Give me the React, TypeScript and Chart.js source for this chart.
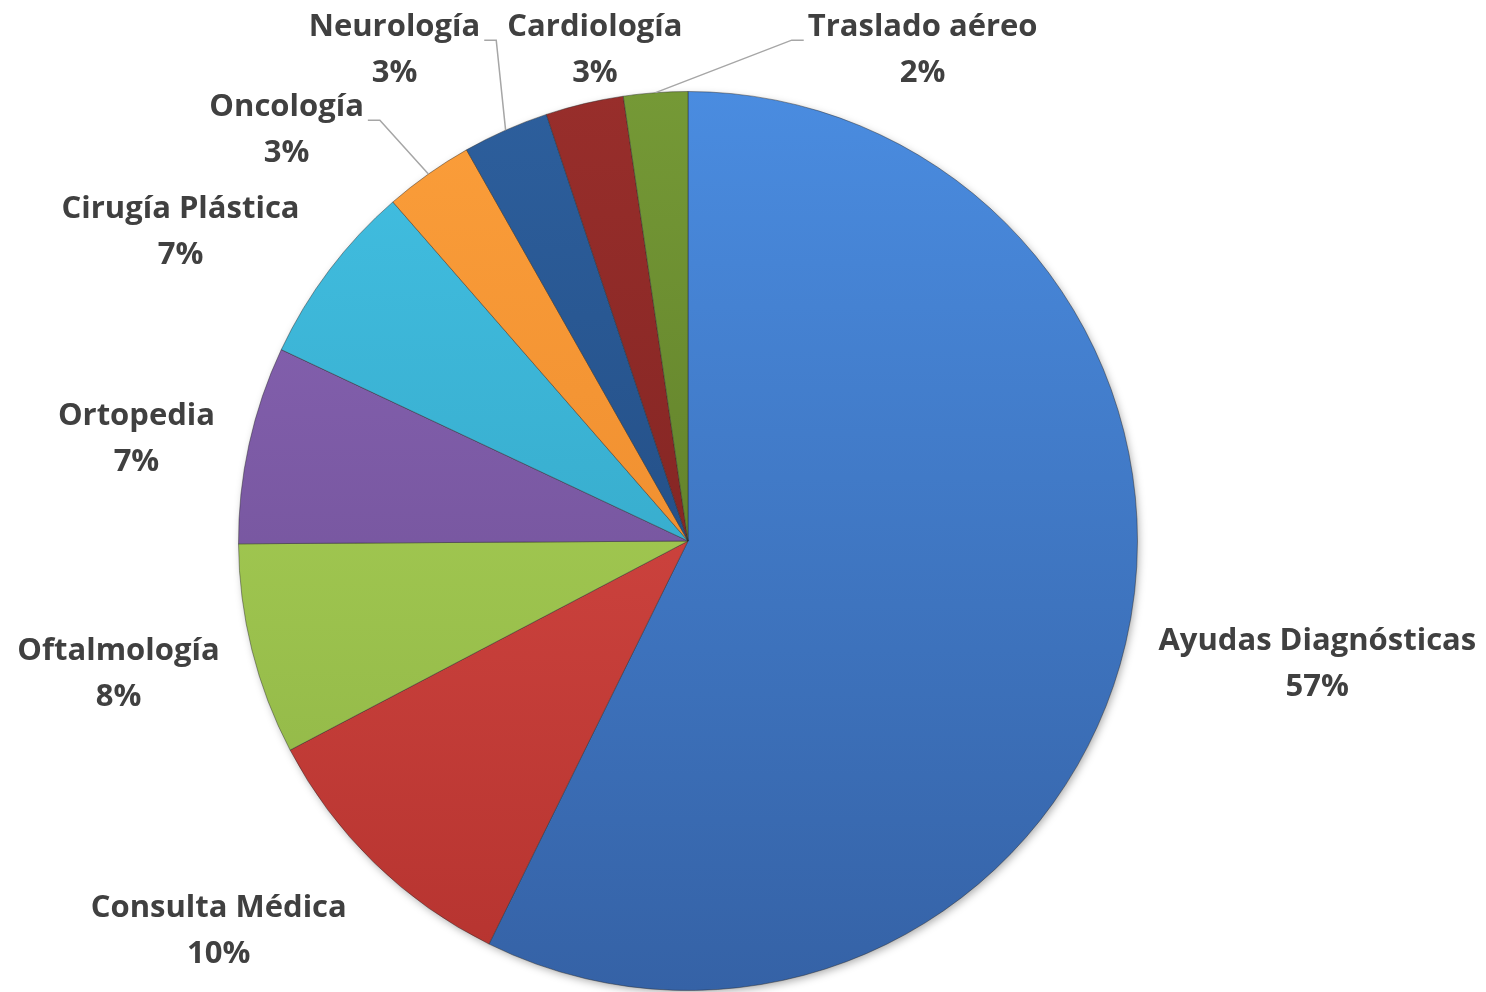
import React, { useEffect, useRef } from "react";
import { Chart, registerables } from "chart.js";

Chart.register(...registerables);

const categories = [
  "Ayudas Diagnósticas",
  "Consulta Médica",
  "Oftalmología",
  "Ortopedia",
  "Cirugía Plástica",
  "Oncología",
  "Neurología",
  "Cardiología",
  "Traslado aéreo",
];
const shares = [57.3, 10.0, 7.6, 7.1, 6.6, 3.2, 3.1, 2.8, 2.3];

// style: [top colour, bottom colour]
const sliceColors: [string, string][] = [
  ["#4a8ce0", "#3562a6"],
  ["#e0504a", "#b5332f"],
  ["#b2da5a", "#8bb044"],
  ["#8b66b8", "#674a8b"],
  ["#42c0e3", "#2f9cba"],
  ["#fb9e3a", "#e68328"],
  ["#2d5f9d", "#1d4375"],
  ["#982e2b", "#731f1d"],
  ["#759936", "#536f22"],
];
// style: label centre relative to pie centre, in units of the radius
const labelPos: [number, number][] = [
  [1.4, 0.275],
  [-1.044, 0.868],
  [-1.267, 0.297],
  [-1.227, -0.227],
  [-1.129, -0.687],
  [-0.893, -0.914],
  [-0.653, -1.092],
  [-0.207, -1.092],
  [0.522, -1.092],
];
const leader = [false, false, false, false, false, true, true, false, true];

const FONT = "bold 31px 'Open Sans', sans-serif";

const labelPlugin = {
  id: "pieLabels",
  beforeDatasetsDraw(chart: any) {
    const ctx = chart.ctx;
    ctx.save();
    ctx.shadowColor = "rgba(0,0,0,0.35)";
    ctx.shadowBlur = 8;
    ctx.shadowOffsetX = 2;
    ctx.shadowOffsetY = 3;
    const meta = chart.getDatasetMeta(0);
    const a0 = meta.data[0];
    if (a0) {
      ctx.beginPath();
      ctx.arc(a0.x, a0.y, a0.outerRadius - 1, 0, Math.PI * 2);
      ctx.fillStyle = "#ffffff";
      ctx.fill();
    }
    ctx.restore();
  },
  afterDatasetsDraw(chart: any) {
    const ctx = chart.ctx;
    const meta = chart.getDatasetMeta(0);
    const data = chart.data.datasets[0].data as number[];
    const total = data.reduce((s, v) => s + v, 0);
    ctx.save();
    ctx.font = FONT;
    ctx.textAlign = "center";
    ctx.textBaseline = "middle";
    meta.data.forEach((arc: any, i: number) => {
      const R = arc.outerRadius;
      const cx = arc.x;
      const cy = arc.y;
      const mid = (arc.startAngle + arc.endAngle) / 2;
      const ex = cx + Math.cos(mid) * R;
      const ey = cy + Math.sin(mid) * R;
      const lx = cx + labelPos[i][0] * R;
      const ly = cy + labelPos[i][1] * R;
      const name = chart.data.labels[i];
      const pct = Math.round((data[i] / total) * 100) + "%";
      if (leader[i]) {
        const w = ctx.measureText(name).width;
        const side = ex > lx ? 1 : -1;
        const sx = lx + side * (w / 2 + 4);
        const sy = ly - 10;
        ctx.beginPath();
        ctx.moveTo(sx, sy);
        ctx.lineTo(sx + side * 12, sy);
        ctx.lineTo(ex, ey);
        ctx.strokeStyle = "#a6a6a6";
        ctx.lineWidth = 1.5;
        ctx.stroke();
      }
      ctx.fillStyle = "#404040";
      ctx.fillText(name, lx, ly - 23);
      ctx.fillText(pct, lx, ly + 23);
    });
    ctx.restore();
  },
};

export default function App() {
  const ref = useRef<HTMLCanvasElement>(null);
  useEffect(() => {
    if (!ref.current) return;
    const chart = new Chart(ref.current, {
      type: "pie",
      data: {
        labels: categories,
        datasets: [
          {
            data: shares,
            backgroundColor: (c: any) => {
              const ch = c.chart;
              const area = ch.chartArea;
              if (!area) return sliceColors[c.dataIndex][0];
              const g = ch.ctx.createLinearGradient(0, area.top, 0, area.bottom);
              g.addColorStop(0, sliceColors[c.dataIndex][0]);
              g.addColorStop(1, sliceColors[c.dataIndex][1]);
              return g;
            },
            borderColor: "rgba(40,40,40,0.45)",
            borderWidth: 1,
          },
        ],
      },
      options: {
        responsive: false,
        animation: false,
        layout: { padding: { left: 238, right: 348, top: 91, bottom: 1 } },
        plugins: {
          legend: { display: false },
          tooltip: { enabled: false },
        },
      },
      plugins: [labelPlugin],
    });
    return () => chart.destroy();
  }, []);
  return (
    <div style={{ position: "absolute", left: 0, top: 0, width: 1486, height: 992, background: "#fff" }}>
      <canvas ref={ref} width={1486} height={992} style={{ display: "block" }} />
    </div>
  );
}
